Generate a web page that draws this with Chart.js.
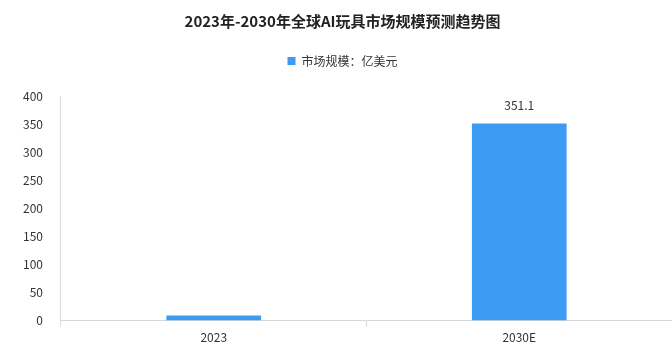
<!DOCTYPE html>
<html>
<head>
<meta charset="utf-8">
<script src="https://cdn.jsdelivr.net/npm/chart.js@4/dist/chart.umd.min.js"></script>
<style>
  html, body { margin: 0; padding: 0; background: #fff; }
  #wrap { width: 672px; height: 357px; }
</style>
</head>
<body>
<div id="wrap"><canvas id="grafico" width="672" height="357"></canvas></div>
<script>
// datos
const categorias = ['2023', '2030E'];
const valores = [9, 351.1];
const etiquetasValor = [null, '351.1'];
const ticksY = [0, 50, 100, 150, 200, 250, 300, 350, 400];

const fuente = "'Noto Sans CJK SC', 'Noto Sans', sans-serif";

// etiqueta encima de la barra
const pluginEtiquetas = {
    id: 'etiquetas',
    afterDatasetsDraw(chart) {
        const ctx = chart.ctx;
        const meta = chart.getDatasetMeta(0);
        ctx.save();
        ctx.font = "12px " + fuente;
        ctx.fillStyle = '#333';
        ctx.textAlign = 'center';
        ctx.textBaseline = 'bottom';
        meta.data.forEach((barra, i) => {
            if (etiquetasValor[i]) {
                ctx.fillText(etiquetasValor[i], barra.x, barra.y - 12);
            }
        });
        ctx.restore();
    }
};

// más espacio debajo de la leyenda
const pluginEspacioLeyenda = {
    id: 'espacioLeyenda',
    beforeInit(chart) {
        const fitOriginal = chart.legend.fit;
        chart.legend.fit = function () {
            fitOriginal.bind(chart.legend)();
            this.height += 19;
        };
    }
};

new Chart(document.getElementById('grafico'), {
    type: 'bar',
    data: {
        labels: categorias,
        datasets: [{
            label: '市场规模：亿美元',
            data: valores,
            backgroundColor: '#3d9bf3',
            borderWidth: 0,
            barPercentage: 0.31,
            categoryPercentage: 1
        }]
    },
    options: {
        responsive: false,
        animation: false,
        layout: { padding: { left: 13, right: 0, top: 0, bottom: 8 } },
        plugins: {
            title: {
                display: true,
                text: '2023年-2030年全球AI玩具市场规模预测趋势图',
                color: '#222',
                font: { family: fuente, size: 15, weight: 'bold' },
                padding: { top: 12, bottom: 15 }
            },
            legend: {
                display: true,
                labels: {
                    boxWidth: 8,
                    boxHeight: 8,
                    color: '#333',
                    font: { family: fuente, size: 12 },
                    padding: 10
                }
            },
            tooltip: { enabled: false }
        },
        scales: {
            x: {
                offset: true,
                grid: { display: true, drawOnChartArea: false, offset: true, tickLength: 6, color: '#d9d9d9' },
                border: { color: '#d9d9d9' },
                ticks: { color: '#333', font: { family: fuente, size: 12 }, padding: 4 }
            },
            y: {
                min: 0,
                max: 400,
                afterBuildTicks: (eje) => { eje.ticks = ticksY.map(v => ({ value: v })); },
                grid: { display: false },
                border: { display: true, color: '#d9d9d9' },
                ticks: { color: '#333', font: { family: fuente, size: 12 }, padding: 10 }
            }
        }
    },
    plugins: [pluginEtiquetas, pluginEspacioLeyenda]
});
</script>
</body>
</html>
